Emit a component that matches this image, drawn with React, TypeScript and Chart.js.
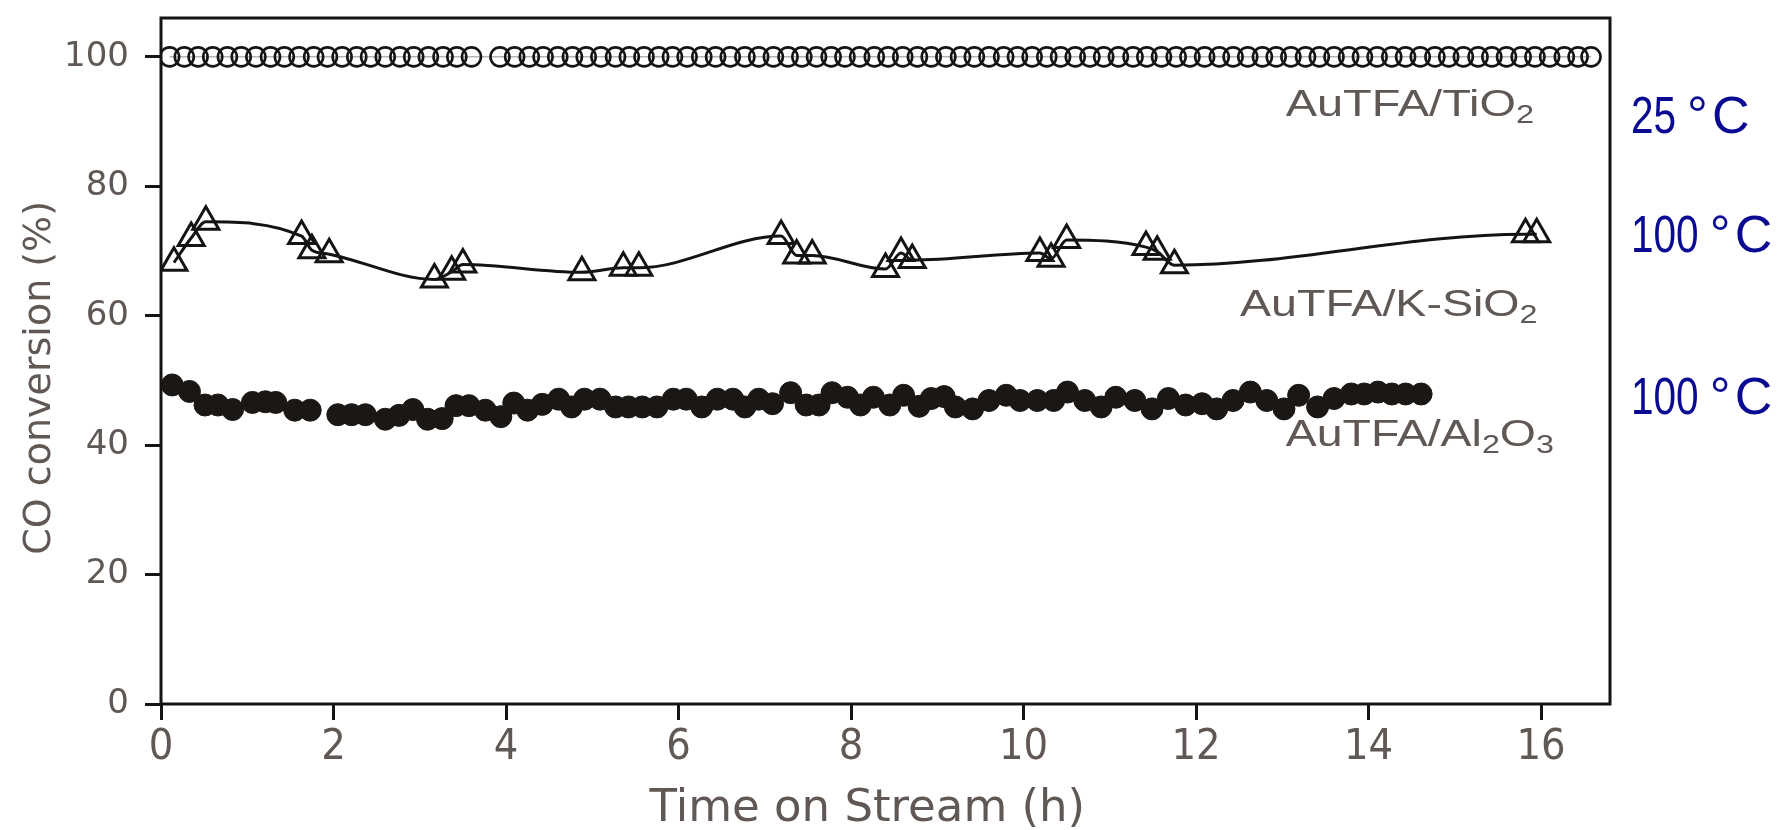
import React, { useEffect, useRef } from 'react';
import { Chart, registerables } from 'chart.js';

Chart.register(...registerables);

// ---- axis ticks and titles ----
const xTickValues = [0, 2, 4, 6, 8, 10, 12, 14, 16];
const yTickValues = [0, 20, 40, 60, 80, 100];
const xTitle = 'Time on Stream (h)';
const yTitle = 'CO conversion (%)';

// ---- AuTFA/TiO2 (25 °C), open circles ----
const tio2Time = [
  0.10, 0.27, 0.43, 0.60, 0.77, 0.93, 1.10, 1.27, 1.43, 1.60,
  1.77, 1.93, 2.10, 2.27, 2.43, 2.60, 2.77, 2.93, 3.10, 3.27,
  3.43, 3.60, 3.93, 4.10, 4.27, 4.43, 4.60, 4.77, 4.93, 5.10,
  5.27, 5.43, 5.60, 5.77, 5.93, 6.10, 6.27, 6.43, 6.60, 6.77,
  6.93, 7.10, 7.27, 7.43, 7.60, 7.77, 7.93, 8.10, 8.27, 8.43,
  8.60, 8.77, 8.93, 9.10, 9.27, 9.43, 9.60, 9.77, 9.93, 10.10,
  10.27, 10.43, 10.60, 10.77, 10.93, 11.10, 11.27, 11.43, 11.60, 11.77,
  11.93, 12.10, 12.27, 12.43, 12.60, 12.77, 12.93, 13.10, 13.27, 13.43,
  13.60, 13.77, 13.93, 14.10, 14.27, 14.43, 14.60, 14.77, 14.93, 15.10,
  15.27, 15.43, 15.60, 15.77, 15.93, 16.10, 16.27, 16.43, 16.58,
];
const tio2Conv = [
  100, 100, 100, 100, 100, 100, 100, 100, 100, 100,
  100, 100, 100, 100, 100, 100, 100, 100, 100, 100,
  100, 100, 100, 100, 100, 100, 100, 100, 100, 100,
  100, 100, 100, 100, 100, 100, 100, 100, 100, 100,
  100, 100, 100, 100, 100, 100, 100, 100, 100, 100,
  100, 100, 100, 100, 100, 100, 100, 100, 100, 100,
  100, 100, 100, 100, 100, 100, 100, 100, 100, 100,
  100, 100, 100, 100, 100, 100, 100, 100, 100, 100,
  100, 100, 100, 100, 100, 100, 100, 100, 100, 100,
  100, 100, 100, 100, 100, 100, 100, 100, 100,
];

// ---- AuTFA/K-SiO2 (100 °C), open triangles ----
const ksio2Time = [
  0.15, 0.35, 0.52, 1.63, 1.75, 1.95, 3.17, 3.37, 3.50, 4.88,
  5.36, 5.54, 7.19, 7.37, 7.55, 8.40, 8.58, 8.71, 10.19, 10.32,
  10.50, 11.42, 11.55, 11.75, 15.82, 15.95,
];
const ksio2Conv = [
  68.2, 72.0, 74.5, 72.3, 70.1, 69.5, 65.6, 66.8, 67.9, 66.7,
  67.4, 67.4, 72.3, 69.3, 69.3, 67.2, 69.7, 68.6, 69.7, 68.8,
  71.7, 70.6, 69.9, 67.8, 72.6, 72.6,
];

// ---- AuTFA/Al2O3 (100 °C), filled circles ----
const al2o3Time = [
  0.13, 0.33, 0.51, 0.66, 0.83, 1.06, 1.21, 1.33, 1.55, 1.73,
  2.05, 2.21, 2.37, 2.60, 2.76, 2.92, 3.09, 3.26, 3.42, 3.57,
  3.76, 3.94, 4.09, 4.25, 4.42, 4.61, 4.76, 4.91, 5.09, 5.27,
  5.42, 5.58, 5.75, 5.94, 6.09, 6.27, 6.45, 6.63, 6.77, 6.93,
  7.09, 7.30, 7.48, 7.63, 7.78, 7.96, 8.11, 8.26, 8.45, 8.61,
  8.79, 8.93, 9.08, 9.21, 9.41, 9.60, 9.80, 9.96, 10.16, 10.35,
  10.51, 10.71, 10.90, 11.07, 11.29, 11.49, 11.68, 11.88, 12.07, 12.24,
  12.43, 12.63, 12.82, 13.02, 13.19, 13.41, 13.60, 13.80, 13.95, 14.11,
  14.27, 14.43, 14.61,
];
const al2o3Conv = [
  49.3, 48.3, 46.2, 46.2, 45.5, 46.6, 46.7, 46.6, 45.4, 45.4,
  44.7, 44.7, 44.7, 44.0, 44.6, 45.5, 44.0, 44.1, 46.1, 46.1,
  45.4, 44.4, 46.5, 45.4, 46.3, 47.1, 45.9, 47.1, 47.1, 45.9,
  45.9, 45.9, 45.9, 47.1, 47.1, 45.9, 47.1, 47.1, 45.9, 47.1,
  46.4, 48.1, 46.2, 46.2, 48.1, 47.4, 46.2, 47.4, 46.2, 47.7,
  46.0, 47.2, 47.5, 45.9, 45.6, 46.9, 47.7, 46.9, 46.9, 46.9,
  48.2, 46.9, 45.9, 47.4, 46.9, 45.6, 47.2, 46.2, 46.4, 45.6,
  46.9, 48.2, 46.9, 45.6, 47.7, 45.9, 47.2, 47.9, 47.9, 48.2,
  47.9, 47.9, 47.9,
];

// ---- text annotations ----
const seriesLabels = [
  { parts: [['AuTFA/TiO', false], ['2', true]], from: 13.04, to: 15.92, base: 90.8 },
  { parts: [['AuTFA/K-SiO', false], ['2', true]], from: 12.51, to: 15.96, base: 60.0 },
  { parts: [['AuTFA/Al', false], ['2', true], ['O', false], ['3', true]], from: 13.04, to: 16.15, base: 39.8 },
];
const tempLabels = [
  { num: '25', base: 88.2 },
  { num: '100', base: 69.9 },
  { num: '100', base: 44.8 },
];

const GRAY = '#5f5854';
const INK = '#161412';
const BLUE = '#0a0a93';
const SANS = '"Liberation Sans", Arial, sans-serif';
const DEJA = '"DejaVu Sans", sans-serif';
const NARROW = '"Liberation Sans Narrow", "DejaVu Sans Condensed", "DejaVu Sans", sans-serif';

const annotationPlugin = {
  id: 'annotations',
  afterDraw(chart: any) {
    const { ctx, chartArea: ca, scales } = chart;
    const xs = scales.x;
    const ys = scales.y;
    ctx.save();
    // frame
    ctx.strokeStyle = INK;
    ctx.lineWidth = 3;
    ctx.strokeRect(ca.left, ca.top, ca.right - ca.left, ca.bottom - ca.top);

    // axis titles
    ctx.fillStyle = GRAY;
    ctx.textAlign = 'center';
    ctx.textBaseline = 'middle';
    ctx.font = `45px ${DEJA}`;
    ctx.fillText(xTitle, xs.getPixelForValue(8.19), 809);

    ctx.save();
    ctx.font = `38px ${DEJA}`;
    ctx.translate(40, ys.getPixelForValue(50.4));
    ctx.rotate(-Math.PI / 2);
    ctx.fillText(yTitle, 0, 0);
    ctx.restore();

    // series labels (gray, with subscripts)
    const size = 36;
    const subSize = 25;
    ctx.fillStyle = GRAY;
    ctx.textBaseline = 'alphabetic';
    ctx.textAlign = 'left';
    for (const lab of seriesLabels) {
      const left = xs.getPixelForValue(lab.from);
      const right = xs.getPixelForValue(lab.to);
      const base = ys.getPixelForValue(lab.base);
      let w = 0;
      const widths: number[] = [];
      for (const [t, sub] of lab.parts as [string, boolean][]) {
        ctx.font = `${sub ? subSize : size}px ${SANS}`;
        const m = ctx.measureText(t).width;
        widths.push(m);
        w += m;
      }
      const sx = (right - left) / w;
      ctx.save();
      ctx.translate(left, base);
      ctx.scale(sx, 1);
      let x = 0;
      (lab.parts as [string, boolean][]).forEach(([t, sub], i) => {
        ctx.font = `${sub ? subSize : size}px ${SANS}`;
        ctx.fillText(t, x, sub ? 7 : 0);
        x += widths[i];
      });
      ctx.restore();
    }

    // temperature labels (blue, right of the plot)
    ctx.fillStyle = BLUE;
    const tSize = 52;
    for (const tl of tempLabels) {
      const base = ys.getPixelForValue(tl.base);
      const left = ca.right + 21;
      ctx.font = `${tSize}px ${SANS}`;
      const nw = ctx.measureText(tl.num).width * 0.78;
      ctx.save();
      ctx.translate(left, base);
      ctx.scale(0.78, 1);
      ctx.fillText(tl.num, 0, 0);
      ctx.restore();
      const degX = left + nw + 11;
      ctx.fillText('°', degX, base);
      ctx.fillText('C', degX + 25, base);
    }
    ctx.restore();
  },
};

export default function App() {
  const canvasRef = useRef<HTMLCanvasElement | null>(null);

  useEffect(() => {
    const canvas = canvasRef.current;
    if (!canvas) return;
    const chart = new Chart(canvas, {
      type: 'line',
      data: {
        datasets: [
          {
            label: 'AuTFA/TiO2',
            data: tio2Time.map((t, i) => ({ x: t, y: tio2Conv[i] })),
            showLine: true,
            borderColor: 'rgba(120,120,120,0.55)',
            borderWidth: 1.5,
            pointStyle: 'circle',
            pointRadius: 9.5,
            pointBorderWidth: 2.6,
            pointBorderColor: INK,
            pointBackgroundColor: 'rgba(0,0,0,0)',
            tension: 0,
          },
          {
            label: 'AuTFA/K-SiO2',
            data: ksio2Time.map((t, i) => ({ x: t, y: ksio2Conv[i] })),
            showLine: true,
            borderColor: INK,
            borderWidth: 3,
            cubicInterpolationMode: 'monotone',
            pointStyle: 'triangle',
            pointRadius: 15,
            pointBorderWidth: 3,
            pointBorderColor: INK,
            pointBackgroundColor: 'rgba(0,0,0,0)',
          },
          {
            label: 'AuTFA/Al2O3',
            data: al2o3Time.map((t, i) => ({ x: t, y: al2o3Conv[i] })),
            showLine: false,
            pointStyle: 'circle',
            pointRadius: 11,
            pointBorderWidth: 1,
            pointBorderColor: '#1b1714',
            pointBackgroundColor: '#1b1714',
          },
        ],
      },
      options: {
        animation: false,
        responsive: true,
        maintainAspectRatio: false,
        events: [],
        layout: { padding: { top: 13, right: 170, left: 0, bottom: 0 } },
        plugins: { legend: { display: false }, tooltip: { enabled: false } },
        scales: {
          x: {
            type: 'linear',
            min: 0,
            max: 16.8,
            afterBuildTicks: (s: any) => {
              s.ticks = xTickValues.map((v) => ({ value: v }));
            },
            afterFit: (s: any) => {
              s.height = 126;
              s.paddingLeft = 0;
              s.paddingRight = 0;
            },
            border: { display: false },
            grid: {
              drawOnChartArea: false,
              drawTicks: true,
              tickLength: 16,
              tickWidth: 3,
              tickColor: INK,
            },
            ticks: {
              font: { family: NARROW, size: 43 },
              color: GRAY,
              padding: 2,
              maxRotation: 0,
              autoSkip: false,
            },
            title: { display: false },
          },
          y: {
            type: 'linear',
            min: 0,
            max: 106,
            afterBuildTicks: (s: any) => {
              s.ticks = yTickValues.map((v) => ({ value: v }));
            },
            afterFit: (s: any) => {
              s.width = 161;
              s.paddingTop = 0;
              s.paddingBottom = 0;
            },
            border: { display: false },
            grid: {
              drawOnChartArea: false,
              drawTicks: true,
              tickLength: 16,
              tickWidth: 3,
              tickColor: INK,
            },
            ticks: {
              font: { family: DEJA, size: 34 },
              color: GRAY,
              padding: 16,
            },
            title: { display: false },
          },
        },
      },
      plugins: [annotationPlugin],
    } as any);
    return () => chart.destroy();
  }, []);

  return (
    <div
      style={{
        position: 'absolute',
        left: 0,
        top: 0,
        width: 1780,
        height: 830,
        background: '#ffffff',
      }}
    >
      <canvas ref={canvasRef} />
    </div>
  );
}
